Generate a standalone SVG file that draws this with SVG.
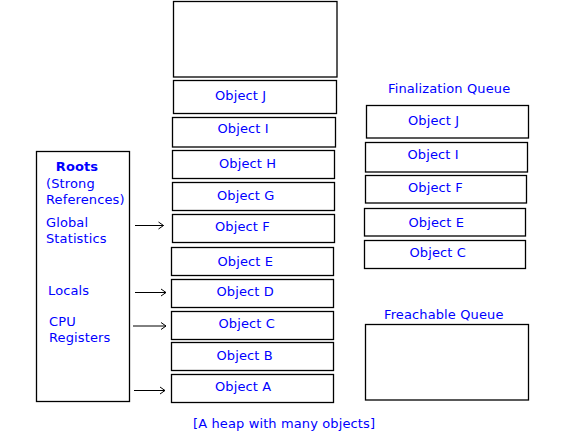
<svg xmlns="http://www.w3.org/2000/svg" width="569" height="435" viewBox="0 0 569 435">
<style>
.box{fill:#fff;stroke:#000;stroke-width:1.3}
.t{font-family:"DejaVu Sans","Liberation Sans",sans-serif;font-size:13px;letter-spacing:0.12px;fill:#0000ff}
.b{font-weight:bold}
.c{stroke:#000;stroke-width:1;fill:none}
</style>
<defs>
<marker id="ah" viewBox="0 0 10 10" refX="9" refY="5" markerWidth="10" markerHeight="10" markerUnits="userSpaceOnUse" orient="auto">
<polyline points="4,1.5 9,5 4,8.5" fill="none" stroke="#000" stroke-width="1"/>
</marker>
</defs>
<rect width="569" height="435" fill="#fff"/>
<g id="heap-top"><rect class="box" x="173.5" y="1.5" width="163.5" height="75.5"/></g>
<g id="heap-J"><rect class="box" x="173.5" y="80.5" width="163" height="33"/><text class="t" x="215" y="100">Object J</text></g>
<g id="heap-I"><rect class="box" x="172.5" y="117.5" width="163" height="29.5"/><text class="t" x="217.5" y="133">Object I</text></g>
<g id="heap-H"><rect class="box" x="172.5" y="150.5" width="162" height="28"/><text class="t" x="219" y="168">Object H</text></g>
<g id="heap-G"><rect class="box" x="172.5" y="182.5" width="162" height="28"/><text class="t" x="217" y="200">Object G</text></g>
<g id="heap-F"><rect class="box" x="172.5" y="214.5" width="162" height="28"/><text class="t" x="215" y="231">Object F</text></g>
<g id="heap-E"><rect class="box" x="171.5" y="247.5" width="162" height="28"/><text class="t" x="217.5" y="266">Object E</text></g>
<g id="heap-D"><rect class="box" x="171.5" y="279.5" width="162" height="28"/><text class="t" x="216.5" y="296">Object D</text></g>
<g id="heap-C"><rect class="box" x="171.5" y="311.5" width="162" height="28"/><text class="t" x="218.5" y="328">Object C</text></g>
<g id="heap-B"><rect class="box" x="171.5" y="342.5" width="162" height="28"/><text class="t" x="216.5" y="360">Object B</text></g>
<g id="heap-A"><rect class="box" x="171.5" y="374.5" width="162" height="28"/><text class="t" x="215" y="391">Object A</text></g>
<g id="roots">
<rect class="box" x="36.5" y="151.5" width="93" height="250"/>
<text class="t b" x="77" y="171" text-anchor="middle">Roots</text>
<text class="t" x="46" y="188">(Strong</text>
<text class="t" x="46" y="204">References)</text>
<text class="t" x="46" y="227">Global</text>
<text class="t" x="46" y="243">Statistics</text>
<text class="t" x="48" y="295">Locals</text>
<text class="t" x="49" y="326">CPU</text>
<text class="t" x="49" y="342">Registers</text>
</g>
<g id="finalization-queue">
<text class="t" x="388" y="93">Finalization Queue</text>
<g id="fq-J"><rect class="box" x="366.5" y="105.5" width="162" height="32.5"/><text class="t" x="408" y="125">Object J</text></g>
<g id="fq-I"><rect class="box" x="365.5" y="142.5" width="162" height="29.5"/><text class="t" x="407.5" y="159">Object I</text></g>
<g id="fq-F"><rect class="box" x="365.5" y="175.5" width="161" height="27.5"/><text class="t" x="408" y="192">Object F</text></g>
<g id="fq-E"><rect class="box" x="364.5" y="208.5" width="161" height="27.5"/><text class="t" x="408.5" y="227">Object E</text></g>
<g id="fq-C"><rect class="box" x="364.5" y="240.5" width="161" height="28"/><text class="t" x="409.5" y="257">Object C</text></g>
</g>
<g id="freachable-queue">
<text class="t" x="384" y="319">Freachable Queue</text>
<rect class="box" x="365.5" y="324.5" width="163" height="75.5"/>
</g>
<g id="caption"><text class="t" x="193" y="428">[A heap with many objects]</text></g>
<g id="connectors">
<line class="c" x1="135" y1="225.5" x2="163.5" y2="225.5" marker-end="url(#ah)"/>
<line class="c" x1="135" y1="292.5" x2="166" y2="292.5" marker-end="url(#ah)"/>
<line class="c" x1="133" y1="326" x2="166" y2="326" marker-end="url(#ah)"/>
<line class="c" x1="134" y1="390.5" x2="165" y2="390.5" marker-end="url(#ah)"/>
</g>
</svg>
